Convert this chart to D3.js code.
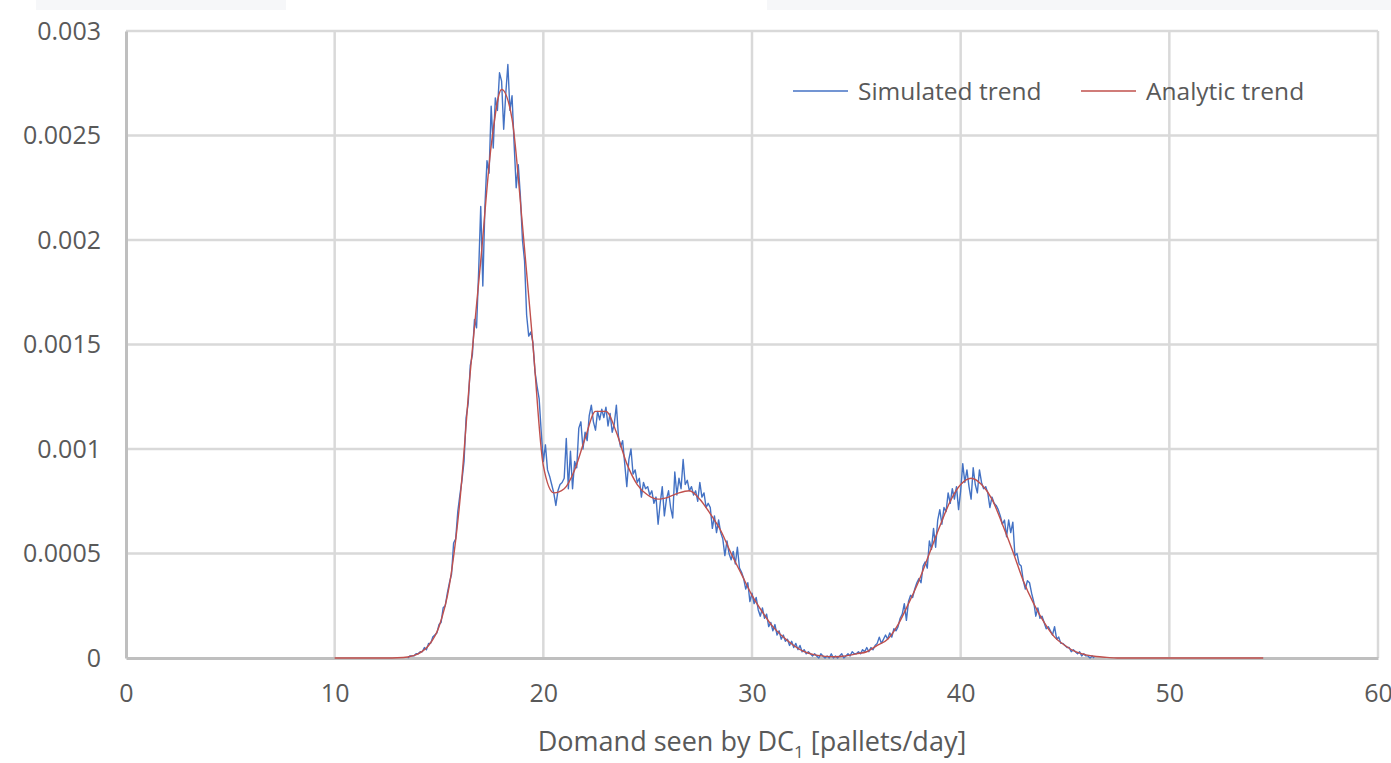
<!DOCTYPE html>
<html>
<head>
<meta charset="utf-8">
<script src="https://cdn.jsdelivr.net/npm/d3@7"></script>
<style>
	body { margin: 0; background: #fff; }
	text { font-family: 'Open Sans', sans-serif; fill: #595959; }
</style>
</head>
<body>
<div id="chart"></div>
<script>
// x ticks and y ticks
var xTicks = [0, 10, 20, 30, 40, 50, 60];
var yTicks = [0, 0.0005, 0.001, 0.0015, 0.002, 0.0025, 0.003];
var yTickLabels = ['0', '0.0005', '0.001', '0.0015', '0.002', '0.0025', '0.003'];

var seriesNames = ['Simulated trend', 'Analytic trend'];

// simulated trend, one value every 0.1 pallets/day starting at 13.5
var simStart = 13.5;
var simStep = 0.1;
var simValues = [
	0.00000, 0.00001, 0.00001, 0.00001, 0.00002,
	0.00002, 0.00003, 0.00003, 0.00005, 0.00004, 0.00007, 0.00007, 0.00010, 0.00011, 0.00012,
	0.00016, 0.00017, 0.00024, 0.00025, 0.00031, 0.00036, 0.00040, 0.00055, 0.00057, 0.00070,
	0.00078, 0.00085, 0.00094, 0.00115, 0.00122, 0.00140, 0.00145, 0.00162, 0.00158, 0.00185,
	0.00216, 0.00178, 0.00216, 0.00238, 0.00232, 0.00264, 0.00244, 0.00268, 0.00262, 0.00280,
	0.00276, 0.00253, 0.00270, 0.00284, 0.00262, 0.00269, 0.00246, 0.00225, 0.00236, 0.00221,
	0.00200, 0.00190, 0.00164, 0.00154, 0.00156, 0.00151, 0.00137, 0.00130, 0.00124, 0.00108,
	0.00094, 0.00102, 0.00090, 0.00087, 0.00083, 0.00079, 0.00073, 0.00080, 0.00083, 0.00084,
	0.00086, 0.00105, 0.00081, 0.00099, 0.00081, 0.00094, 0.00091, 0.00110, 0.00113, 0.00100,
	0.00108, 0.00104, 0.00116, 0.00121, 0.00113, 0.00109, 0.00118, 0.00114, 0.00119, 0.00115,
	0.00120, 0.00111, 0.00117, 0.00108, 0.00112, 0.00121, 0.00106, 0.00101, 0.00104, 0.00093,
	0.00082, 0.00095, 0.00100, 0.00088, 0.00090, 0.00084, 0.00086, 0.00077, 0.00084, 0.00081,
	0.00082, 0.00078, 0.00080, 0.00074, 0.00077, 0.00064, 0.00074, 0.00082, 0.00068, 0.00076,
	0.00080, 0.00072, 0.00067, 0.00089, 0.00078, 0.00086, 0.00081, 0.00095, 0.00083, 0.00085,
	0.00080, 0.00082, 0.00078, 0.00080, 0.00075, 0.00084, 0.00077, 0.00079, 0.00072, 0.00074,
	0.00072, 0.00062, 0.00068, 0.00060, 0.00066, 0.00060, 0.00057, 0.00049, 0.00056, 0.00050,
	0.00047, 0.00051, 0.00045, 0.00053, 0.00043, 0.00041, 0.00038, 0.00033, 0.00036, 0.00027,
	0.00031, 0.00026, 0.00029, 0.00023, 0.00020, 0.00024, 0.00019, 0.00021, 0.00015, 0.00017,
	0.00013, 0.00016, 0.00011, 0.00013, 0.00009, 0.00011, 0.00008, 0.00009, 0.00006, 0.00008,
	0.00005, 0.00007, 0.00004, 0.00006, 0.00003, 0.00004, 0.00002, 0.00003, 0.00002, 0.00001,
	0.00002, 0.00001, 0.00000, 0.00002, 0.00001, 0.00000, 0.00001, 0.00000, 0.00002, 0.00000,
	0.00001, 0.00000, 0.00001, 0.00002, 0.00000, 0.00001, 0.00002, 0.00001, 0.00003, 0.00002,
	0.00002, 0.00003, 0.00002, 0.00004, 0.00003, 0.00005, 0.00003, 0.00005, 0.00004, 0.00006,
	0.00007, 0.00010, 0.00007, 0.00009, 0.00011, 0.00009, 0.00012, 0.00010, 0.00014, 0.00013,
	0.00015, 0.00019, 0.00021, 0.00026, 0.00018, 0.00027, 0.00030, 0.00029, 0.00033, 0.00036,
	0.00038, 0.00036, 0.00044, 0.00046, 0.00043, 0.00056, 0.00052, 0.00062, 0.00053, 0.00066,
	0.00071, 0.00064, 0.00072, 0.00070, 0.00079, 0.00074, 0.00081, 0.00076, 0.00082, 0.00071,
	0.00080, 0.00093, 0.00084, 0.00090, 0.00082, 0.00076, 0.00091, 0.00083, 0.00079, 0.00090,
	0.00084, 0.00081, 0.00082, 0.00079, 0.00072, 0.00077, 0.00074, 0.00073, 0.00071, 0.00068,
	0.00064, 0.00066, 0.00058, 0.00066, 0.00060, 0.00065, 0.00049, 0.00050, 0.00045, 0.00044,
	0.00037, 0.00033, 0.00037, 0.00036, 0.00031, 0.00027, 0.00020, 0.00024, 0.00019, 0.00020,
	0.00017, 0.00014, 0.00015, 0.00013, 0.00011, 0.00015, 0.00009, 0.00010, 0.00007, 0.00007,
	0.00006, 0.00005, 0.00005, 0.00003, 0.00004, 0.00003, 0.00002, 0.00003, 0.00001, 0.00002,
	0.00001, 0.00001, 0.00000, 0.00001, 0.00000
];

// analytic trend, one value every 0.5 pallets/day starting at 10
var anaStart = 10;
var anaStep = 0.5;
var anaValues = [
	0, 0, 0, 0, 0, 0, 0.000001, 0.000005,
	0.00002, 0.00006, 0.00015, 0.00035, 0.00075, 0.00137, 0.0019, 0.00245,
	0.00272, 0.00258, 0.00207, 0.0015, 0.00092, 0.00079, 0.00081, 0.0009,
	0.00105, 0.00118, 0.00118, 0.00108, 0.00093, 0.00083, 0.00078, 0.00076,
	0.00077, 0.00079, 0.0008, 0.00076, 0.00069, 0.00061, 0.0005, 0.0004,
	0.0003, 0.00022, 0.00015, 0.0001, 0.00006, 0.00003, 0.000015, 0.000008,
	0.000006, 0.00001, 0.00002, 0.00003, 0.00006, 0.00009, 0.00016, 0.00026,
	0.00037, 0.0005, 0.00063, 0.00075, 0.00083, 0.00086, 0.00083, 0.00076,
	0.00064, 0.00051, 0.00037, 0.00026, 0.00017, 0.0001, 0.00006, 0.00003,
	0.000015, 0.000007, 0.000003, 0,
	0, 0, 0, 0, 0, 0, 0, 0, 0, 0, 0, 0, 0, 0
];

var width = 1391;
var height = 763;

Draw();

function Draw() {
	var svg = d3
		.select('#chart')
		.append('svg')
		.attr('width', width)
		.attr('height', height);

	// faint strips left over at the top of the scan
	svg.append('rect').attr('x', 36).attr('y', 0).attr('width', 250).attr('height', 10).attr('fill', '#f6f7f9');
	svg.append('rect').attr('x', 767).attr('y', 0).attr('width', 624).attr('height', 10).attr('fill', '#f6f7f9');

	var x = d3.scaleLinear().domain([0, 60]).range([126, 1378]);
	var y = d3.scaleLinear().domain([0, 0.003]).range([658, 31]);

	// grid
	svg.append('g')
		.selectAll('line')
		.data(yTicks.slice(1))
		.enter()
		.append('line')
		.attr('x1', x(0))
		.attr('x2', x(60))
		.attr('y1', function(d) { return y(d); })
		.attr('y2', function(d) { return y(d); })
		.attr('stroke', '#d9d9d9')
		.attr('stroke-width', 2.5);

	svg.append('g')
		.selectAll('line')
		.data(xTicks.slice(1))
		.enter()
		.append('line')
		.attr('x1', function(d) { return x(d); })
		.attr('x2', function(d) { return x(d); })
		.attr('y1', y(0))
		.attr('y2', y(0.003))
		.attr('stroke', '#d9d9d9')
		.attr('stroke-width', 2.5);

	// axes
	var xAxis = d3.axisBottom(x).tickValues(xTicks).tickSize(0).tickPadding(26);
	var gx = svg.append('g').attr('transform', 'translate(0,' + y(0) + ')').call(xAxis);
	gx.select('.domain').attr('stroke', '#bfbfbf').attr('stroke-width', 3);
	gx.selectAll('text').style('font-size', '25px').attr('fill', '#595959');

	var yAxis = d3
		.axisLeft(y)
		.tickValues(yTicks)
		.tickSize(0)
		.tickPadding(25)
		.tickFormat(function(d, i) { return yTickLabels[i]; });
	var gy = svg.append('g').attr('transform', 'translate(' + x(0) + ',0)').call(yAxis);
	gy.select('.domain').attr('stroke', '#bfbfbf').attr('stroke-width', 3);
	gy.selectAll('text').style('font-size', '25px').attr('fill', '#595959');

	// lines
	var simData = simValues.map(function(v, i) {
		return { x: simStart + i * simStep, y: v };
	});
	var anaData = anaValues.map(function(v, i) {
		return { x: anaStart + i * anaStep, y: v };
	});

	var simLine = d3
		.line()
		.x(function(d) { return x(d.x); })
		.y(function(d) { return y(d.y); });

	var anaLine = d3
		.line()
		.curve(d3.curveMonotoneX)
		.x(function(d) { return x(d.x); })
		.y(function(d) { return y(d.y); });

	svg.append('path')
		.datum(simData)
		.attr('d', simLine)
		.attr('fill', 'none')
		.attr('stroke', '#4472c4')
		.attr('stroke-width', 1.4)
		.attr('stroke-linejoin', 'round');

	svg.append('path')
		.datum(anaData)
		.attr('d', anaLine)
		.attr('fill', 'none')
		.attr('stroke', '#c0504d')
		.attr('stroke-width', 1.4);

	// legend
	var legend = svg
		.selectAll('.legend')
		.data(seriesNames)
		.enter()
		.append('g')
		.attr('class', 'legend')
		.attr('transform', function(d, i) {
			return 'translate(' + [793, 1081][i] + ',91)';
		});

	legend.append('line')
		.attr('x1', 0)
		.attr('x2', 55)
		.attr('stroke', function(d, i) { return i ? '#c0504d' : '#4472c4'; })
		.attr('stroke-width', 1.4);

	legend.append('text')
		.attr('x', 65)
		.attr('dy', '0.35em')
		.style('font-size', '24.5px')
		.text(function(d) { return d; });

	// axis title
	var title = svg
		.append('text')
		.attr('x', 752)
		.attr('y', 751)
		.style('text-anchor', 'middle')
		.style('font-size', '27px');
	title.append('tspan').text('Domand seen by DC');
	title.append('tspan').attr('dy', 7).style('font-size', '17px').text('1');
	title.append('tspan').attr('dy', -7).text(' [pallets/day]');
}
</script>
</body>
</html>
